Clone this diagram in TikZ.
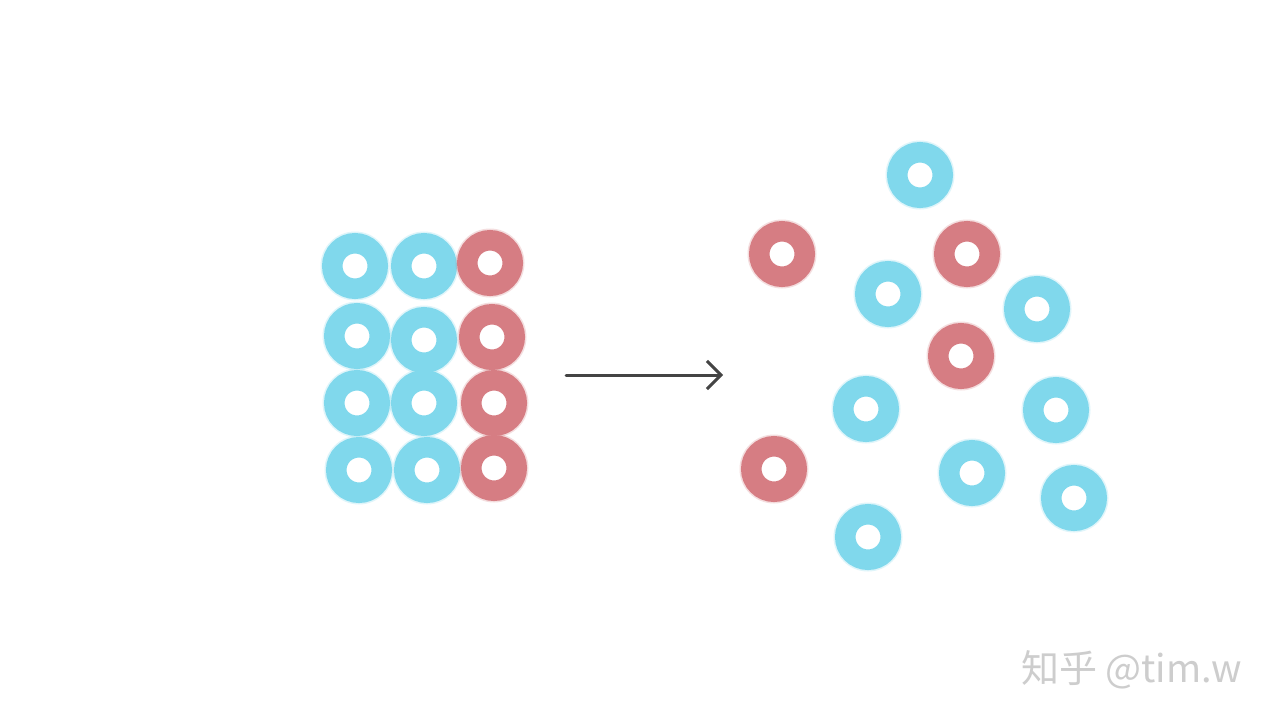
\documentclass[tikz,border=0pt]{standalone}
\usepackage{fontspec}
\newfontfamily\cjk{Noto Sans CJK SC}
\usetikzlibrary{arrows.meta}
\definecolor{cyanD}{HTML}{80D8EC}
\definecolor{redD}{HTML}{D67D83}
\definecolor{arrowC}{HTML}{444444}
\definecolor{markC}{HTML}{CDCDCD}
\tikzset{
  donut/.style={circle, minimum size=45.5pt, inner sep=0pt, line width=20.5pt},
  cdonut/.style={donut, draw=cyanD},
  rdonut/.style={donut, draw=redD},
  halo/.style={circle, minimum size=67pt, inner sep=0pt, line width=2pt, draw opacity=0.25},
}
\newcommand{\dnt}[4]{%
  \node[halo, draw=#1] at (#3) {};
  \node[#2] (#4) at (#3) {};}
\begin{document}
\begin{tikzpicture}[x=1pt,y=-1pt]
\useasboundingbox[fill=white] (0,0) rectangle (1280,720);
% left grid
\dnt{cyanD}{cdonut}{355,266}{g11}
\dnt{cyanD}{cdonut}{424,266}{g12}
\dnt{redD}{rdonut}{490,263}{g13}
\dnt{cyanD}{cdonut}{357,336}{g21}
\dnt{cyanD}{cdonut}{424,340}{g22}
\dnt{redD}{rdonut}{492,337}{g23}
\dnt{cyanD}{cdonut}{357,403}{g31}
\dnt{cyanD}{cdonut}{424,403}{g32}
\dnt{redD}{rdonut}{494,403}{g33}
\dnt{cyanD}{cdonut}{359,470}{g41}
\dnt{cyanD}{cdonut}{427,470}{g42}
\dnt{redD}{rdonut}{494,468}{g43}
% scattered
\dnt{cyanD}{cdonut}{920,175}{s1}
\dnt{redD}{rdonut}{782,254}{s2}
\dnt{redD}{rdonut}{967,254}{s3}
\dnt{cyanD}{cdonut}{888,294}{s4}
\dnt{cyanD}{cdonut}{1037,309}{s5}
\dnt{redD}{rdonut}{961,356}{s6}
\dnt{cyanD}{cdonut}{866,409}{s7}
\dnt{cyanD}{cdonut}{1056,410}{s8}
\dnt{redD}{rdonut}{774,469}{s9}
\dnt{cyanD}{cdonut}{972,473}{s10}
\dnt{cyanD}{cdonut}{1074,498}{s11}
\dnt{cyanD}{cdonut}{868,537}{s12}
% arrow
\coordinate (a1) at (566,375);
\coordinate (a2) at (723,375);
\draw[arrowC, line width=3pt, line cap=round, -{Straight Barb[length=14pt,width=28pt,line width=3pt]}] (a1) -- (a2);
% watermark
\node[anchor=west, text=markC, inner sep=0pt, font=\cjk\fontsize{38}{44}\selectfont] (wm) at (1021,670) {知乎 @tim.w};
\end{tikzpicture}
\end{document}
